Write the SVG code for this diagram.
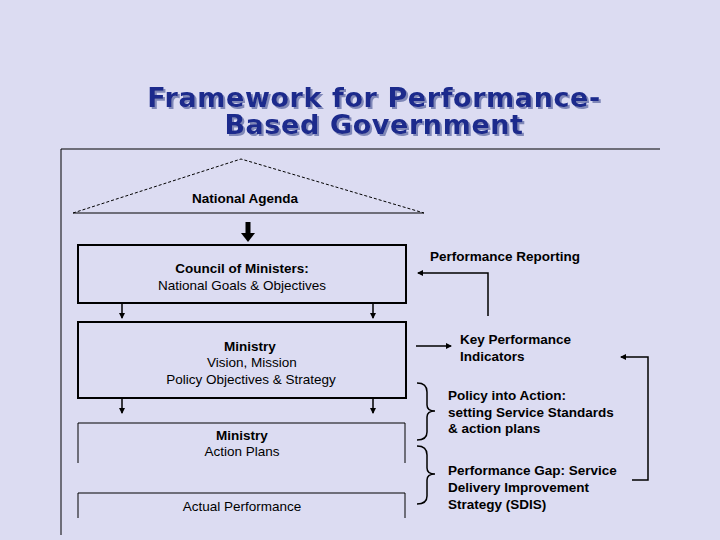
<svg xmlns="http://www.w3.org/2000/svg" width="720" height="540" viewBox="0 0 720 540">
<defs>
<marker id="ah" markerWidth="6" markerHeight="6" refX="5" refY="3" orient="auto" markerUnits="userSpaceOnUse"><path d="M0,0 L6,3 L0,6 z" fill="#000"/></marker>
<filter id="sh" x="-5%" y="-20%" width="110%" height="140%"><feDropShadow dx="2" dy="2" stdDeviation="0.3" flood-color="#8088b8"/></filter>
</defs>
<style>
text{font-family:"Liberation Sans",Arial,sans-serif;font-size:13.5px;fill:#000}
.b{font-weight:bold}
.t{font-family:"DejaVu Sans",Verdana,sans-serif;font-size:27px;letter-spacing:0.6px;font-weight:bold;fill:#1a2a8c;text-anchor:middle}
.c{text-anchor:middle}
.ln{stroke:#000;fill:none;stroke-width:1.5}
.bx{stroke:#000;fill:none;stroke-width:2}
.th{stroke:#000;fill:none;stroke-width:1}
</style>
<rect width="720" height="540" fill="#dcdcf2"/>
<g id="title" filter="url(#sh)">
<text class="t" x="374" y="107">Framework for Performance-</text>
<text class="t" x="374" y="134">Based Government</text>
</g>
<g id="frame"><path class="th" d="M660,149 H61 V535"/></g>
<g id="national-agenda">
<path class="th" d="M73,213 L241,159 L424,213" stroke-dasharray="3,2"/>
<path class="th" d="M73,213 H424"/>
<text class="c b" x="245" y="203">National Agenda</text>
</g>
<g id="council">
<rect class="bx" x="78" y="245" width="328" height="58"/>
<text class="c b" x="242" y="273">Council of Ministers:</text>
<text class="c" x="242" y="290">National Goals &amp; Objectives</text>
</g>
<g id="ministry">
<rect class="bx" x="78" y="322" width="328" height="76"/>
<text class="c b" x="250" y="351">Ministry</text>
<text class="c" x="252" y="367">Vision, Mission</text>
<text class="c" x="251" y="384">Policy Objectives &amp; Strategy</text>
</g>
<g id="action-plans">
<path class="th" d="M78,463 V423 H405 V463"/>
<text class="c b" x="242" y="440">Ministry</text>
<text class="c" x="242" y="456">Action Plans</text>
</g>
<g id="actual">
<path class="th" d="M78,518 V493 H405 V518"/>
<text class="c" x="242" y="511">Actual Performance</text>
</g>
<g id="perf-reporting"><text class="b" x="430" y="261">Performance Reporting</text></g>
<g id="kpi"><text class="b" x="460" y="344">Key Performance</text><text class="b" x="460" y="361">Indicators</text></g>
<g id="policy-action"><text class="b" x="448" y="400">Policy into Action:</text><text class="b" x="448" y="417">setting Service Standards</text><text class="b" x="448" y="433">&amp; action plans</text></g>
<g id="perf-gap"><text class="b" x="448" y="475">Performance Gap: Service</text><text class="b" x="448" y="492">Delivery Improvement</text><text class="b" x="448" y="509">Strategy (SDIS)</text></g>
<g id="connectors">
<path d="M248,222 V234" stroke="#000" stroke-width="5"/>
<path d="M241,233 L255,233 L248,242 z" fill="#000"/>
<path class="ln" d="M122,303 V318" marker-end="url(#ah)"/>
<path class="ln" d="M373,303 V318" marker-end="url(#ah)"/>
<path class="ln" d="M122,398 V413" marker-end="url(#ah)"/>
<path class="ln" d="M373,398 V413" marker-end="url(#ah)"/>
<path class="ln" d="M488,316 V273 H418" marker-end="url(#ah)"/>
<path class="ln" d="M416,346 H451" marker-end="url(#ah)"/>
<path class="ln" d="M632,480 H648 V357 H621" marker-end="url(#ah)"/>
<path class="ln" d="M417,383 Q427,383 427,392 V405 Q427,411 435,411 Q427,411 427,417 V432 Q427,440 417,440"/>
<path class="ln" d="M417,446 Q427,446 427,455 V468 Q427,474 435,474 Q427,474 427,480 V496 Q427,504 417,504"/>
</g>
</svg>
